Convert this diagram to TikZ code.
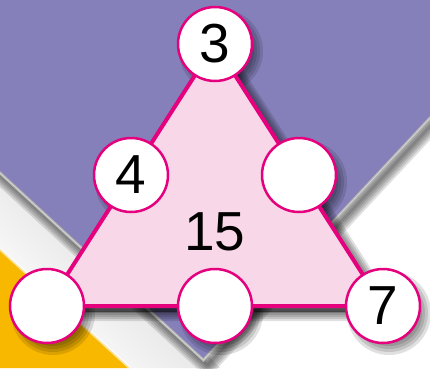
\documentclass[tikz,border=0pt]{standalone}
\usepackage{fontspec}
\setmainfont{Liberation Sans}
\usetikzlibrary{calc}
\definecolor{violetbg}{HTML}{8580BA}
\definecolor{sunyellow}{HTML}{F9B800}
\definecolor{rim}{HTML}{E5007E}
\definecolor{blush}{HTML}{F8D8E8}

\begin{document}
\begin{tikzpicture}[x=1pt,y=1pt,
  numcircle/.style={circle,draw=rim,line width=2.5pt,fill=white,minimum size=74pt,inner sep=0pt,
    font=\fontsize{55}{60}\selectfont},
  haze/.style={black,fill opacity=.12,draw opacity=.12,line join=round}]
\useasboundingbox (0,0) rectangle (430,368);
% background
\begin{scope}
  \clip (0,0) rectangle (430,368);
  \fill[white] (0,0) rectangle (430,368);
  \shade[top color=gray!40,bottom color=white,shading angle=-45] (0,0) -- (0,230) -- (220,0) -- cycle;
  \fill[sunyellow] (0,0) -- (0,119) -- (130,0) -- cycle;
  \draw[white,opacity=.6,line width=3pt] (0,119) -- (130,0);
  \foreach \w in {3,7,11,15,19}
    \draw[haze,line width=\w pt] (-17,209.4) -- (207.4,2.9) -- (454,267.4);
  \fill[violetbg] (-20,213.4) -- (203.4,7.9) -- (450,271.4) -- (450,390) -- (-20,390) -- cycle;
  \draw[gray!65,line width=3pt] (-20,213.4) -- (203.4,7.9) -- (450,271.4);
  \draw[gray!35,line width=1pt] (-20,213.4) -- (203.4,7.9) -- (450,271.4);
\end{scope}
% corners and midpoints of the triangle
\coordinate (c3) at (215,324);
\coordinate (cl) at (47,62);
\coordinate (c7) at (383,62);
\coordinate (m4) at ($(c3)!0.5!(cl)$);
\coordinate (mr) at ($(c3)!0.5!(c7)$);
\coordinate (mb) at ($(cl)!0.5!(c7)$);
% shadows, then the plate
\foreach \c in {c3,m4,mr,cl,mb,c7}
  \foreach \r in {30,33,...,42}
    \fill[haze] ($(\c)+(6,-7)$) circle (\r);
\foreach \w in {2,6,10,14,18}
  \filldraw[haze,line width=\w pt] ($(c3)+(5,-6)$) -- ($(cl)+(5,-6)$) -- ($(c7)+(5,-6)$) -- cycle;
\draw[rim,fill=blush,line width=4pt,line join=round] (c3) -- (cl) -- (c7) -- cycle;
% numbered circles
\node[numcircle] (n3) at (c3) {3};
\node[numcircle] (nl) at (cl) {};
\node[numcircle] (n7) at (c7) {7};
\node[numcircle] (n4) at (m4) {4};
\node[numcircle] (nr) at (mr) {};
\node[numcircle] (nb) at (mb) {};
\node[font=\fontsize{55}{60}\selectfont] (total) at (215,136) {15};
\end{tikzpicture}
\end{document}
